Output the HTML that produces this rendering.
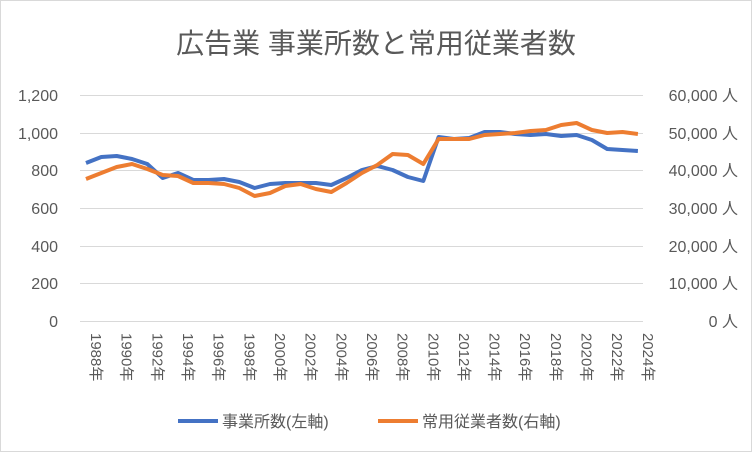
<!DOCTYPE html>
<html><head><meta charset="utf-8"><style>
body{margin:0;background:#fff}
svg text{font-family:"Liberation Sans","Noto Sans CJK JP",sans-serif;fill:#595959}
</style></head><body>
<svg width="752" height="452" xmlns="http://www.w3.org/2000/svg">
<rect x="0.5" y="0.5" width="751" height="451" fill="#fff" stroke="#d9d9d9"/>
<text x="376" y="53" font-size="28" text-anchor="middle">広告業 事業所数と常用従業者数</text>
<g stroke="#d9d9d9" stroke-width="1">
<line x1="80" x2="643" y1="95.5" y2="95.5"/><line x1="80" x2="643" y1="133.5" y2="133.5"/>
<line x1="80" x2="643" y1="170.5" y2="170.5"/><line x1="80" x2="643" y1="208.5" y2="208.5"/>
<line x1="80" x2="643" y1="246.5" y2="246.5"/><line x1="80" x2="643" y1="283.5" y2="283.5"/>
<line x1="80" x2="643" y1="321.5" y2="321.5"/>
</g>
<g font-size="16" text-anchor="end">
<text x="58" y="101">1,200</text><text x="58" y="139">1,000</text><text x="58" y="176">800</text>
<text x="58" y="214">600</text><text x="58" y="252">400</text><text x="58" y="289">200</text><text x="58" y="327">0</text>
</g>
<g font-size="16" text-anchor="end">
<text x="738" y="101">60,000 人</text><text x="738" y="139">50,000 人</text><text x="738" y="176">40,000 人</text>
<text x="738" y="214">30,000 人</text><text x="738" y="252">20,000 人</text><text x="738" y="289">10,000 人</text><text x="738" y="327">0 人</text>
</g>
<g font-size="15" id="xl"></g>
<polyline fill="none" stroke="#4472c4" stroke-width="4" stroke-linejoin="round" id="b"/>
<polyline fill="none" stroke="#ed7d31" stroke-width="4" stroke-linejoin="round" id="o"/>
<line x1="178" x2="218" y1="421" y2="421" stroke="#4472c4" stroke-width="4"/>
<text x="222" y="427" font-size="16">事業所数(左軸)</text>
<line x1="378" x2="418" y1="421" y2="421" stroke="#ed7d31" stroke-width="4"/>
<text x="422" y="427" font-size="16">常用従業者数(右軸)</text>
</svg>
<script>
var B=[163,157,156,159,164,178,173,180,180,179,182,188,184,183,183,183,185,178,170,166,170,177,181,137,139,138,132,132,134,135,134,136,135,140,149,150,151];
var O=[179,173,167,164,169,175,176,183,183,184,188,196,193,186,184,189,192,183,173,165,154,155,164,139,139,139,135,134,133,131,130,125,123,130,133,132,134];
function pts(a){return a.map(function(y,i){return (86+i*15.33).toFixed(1)+","+y}).join(" ")}
document.getElementById("b").setAttribute("points",pts(B));
document.getElementById("o").setAttribute("points",pts(O));
var g=document.getElementById("xl"),s="";
for(var i=0;i<37;i+=2){var x=86+i*15.33+5;s+='<text transform="translate('+x+',333) rotate(90)" font-size="15">'+(1988+i)+'年</text>';}
g.innerHTML=s;
</script>
</body></html>
